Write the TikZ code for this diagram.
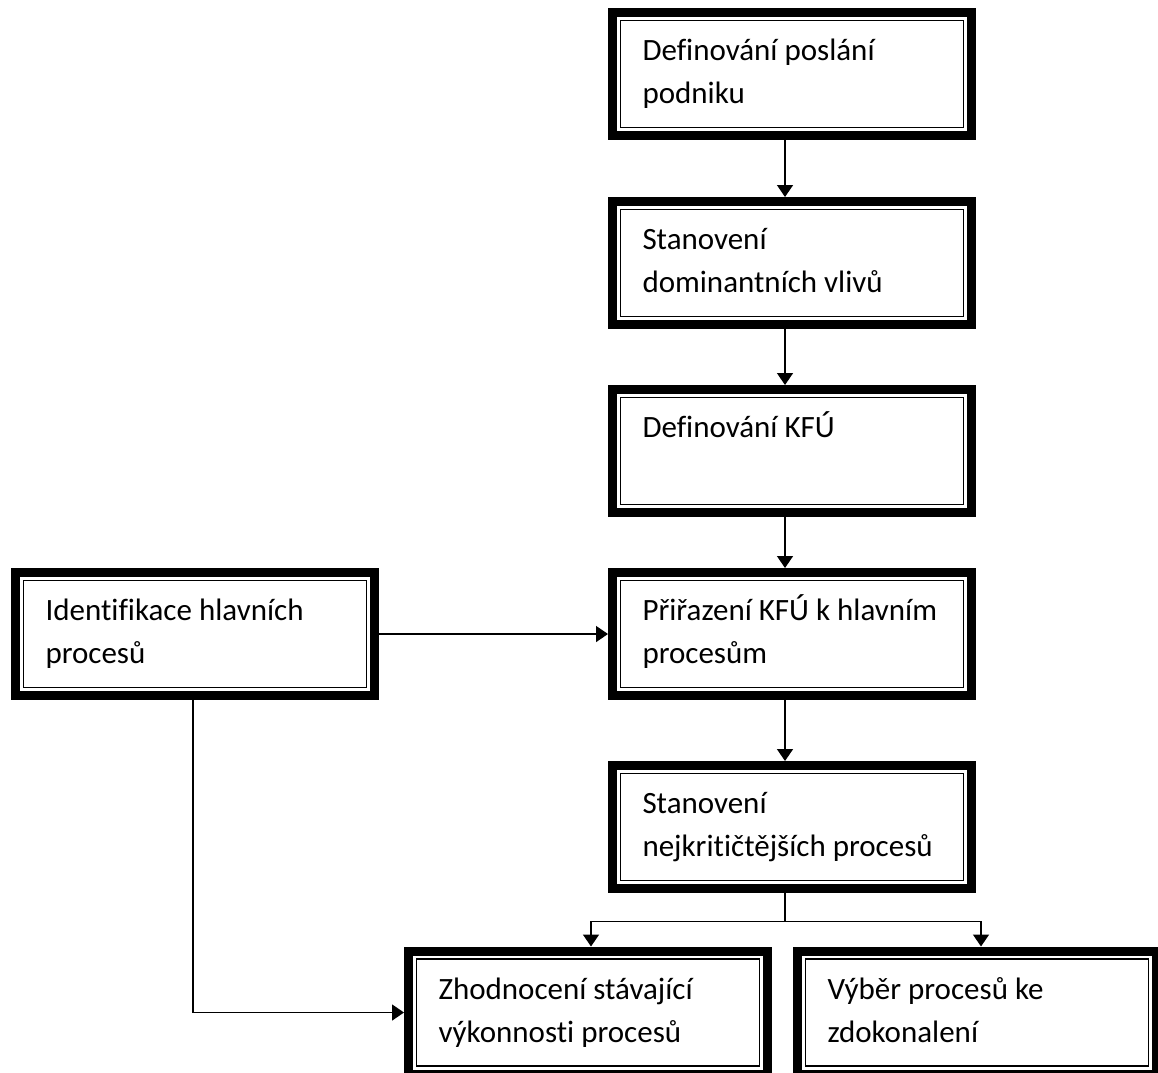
\documentclass[tikz,border=0pt]{standalone}
\usepackage{fontspec}
\setmainfont{Carlito}[Ligatures=NoCommon]
\usetikzlibrary{positioning,arrows.meta}
\newcommand{\boxtxt}[1]{\parbox[c][123pt][t]{359pt}{\leftskip=30pt\vspace*{18pt}\strut#1}}
\tikzset{
  procbox/.style={draw, line width=9pt, inner sep=0pt, minimum width=359pt, minimum height=123pt,
    font=\fontsize{31pt}{43pt}\selectfont,
    append after command={\pgfextra{\draw[-, line width=1.3pt]
      ([shift={(12.5,12.5)}]\tikzlastnode.north west) rectangle
      ([shift={(-12.5,-12.5)}]\tikzlastnode.south east);}}},
}

\begin{document}
\begin{tikzpicture}[x=1pt, y=-1pt, ->, >={Triangle[length=12pt,width=16pt]}, line width=1.5pt]
    \useasboundingbox (0,0) rectangle (1158,1072);
    \node[procbox] (B1) at (792,74) {\boxtxt{Definování poslání\\podniku}};
    \node[procbox,below=57pt of B1] (B2) {\boxtxt{Stanovení\\dominantních vlivů}};
    \node[procbox,below=56pt of B2] (B3) {\boxtxt{Definování KFÚ}};
    \node[procbox,below=51pt of B3] (B4) {\boxtxt{Přiřazení KFÚ k hlavním\\procesům}};
    \node[procbox,below=61pt of B4] (B5) {\boxtxt{Stanovení\\nejkritičtějších procesů}};
    \node[procbox,left=229pt of B4] (L) {\boxtxt{Identifikace hlavních\\procesů}};
    \node[procbox] (Z) at (588,1012.5) {\boxtxt{Zhodnocení stávající\\výkonnosti procesů}};
    \node[procbox,right=21pt of Z] (V) {\boxtxt{Výběr procesů ke\\zdokonalení}};
    \coordinate (spine) at (785,0);
    \coordinate (split) at (785,921.5);
    \draw (B1.south -| spine) -- (B2.north -| spine);
    \draw (B2.south -| spine) -- (B3.north -| spine);
    \draw (B3.south -| spine) -- (B4.north -| spine);
    \draw (B4.south -| spine) -- (B5.north -| spine);
    \draw (L.east) -- (B4.west);
    \draw[-] (B5.south -| spine) -- (split);
    \draw (split) -| ([xshift=3pt]Z.north);
    \draw (split) -| ([xshift=4pt]V.north);
    \draw ([xshift=-2pt]L.south) |- (Z.west);
\end{tikzpicture}
\end{document}
